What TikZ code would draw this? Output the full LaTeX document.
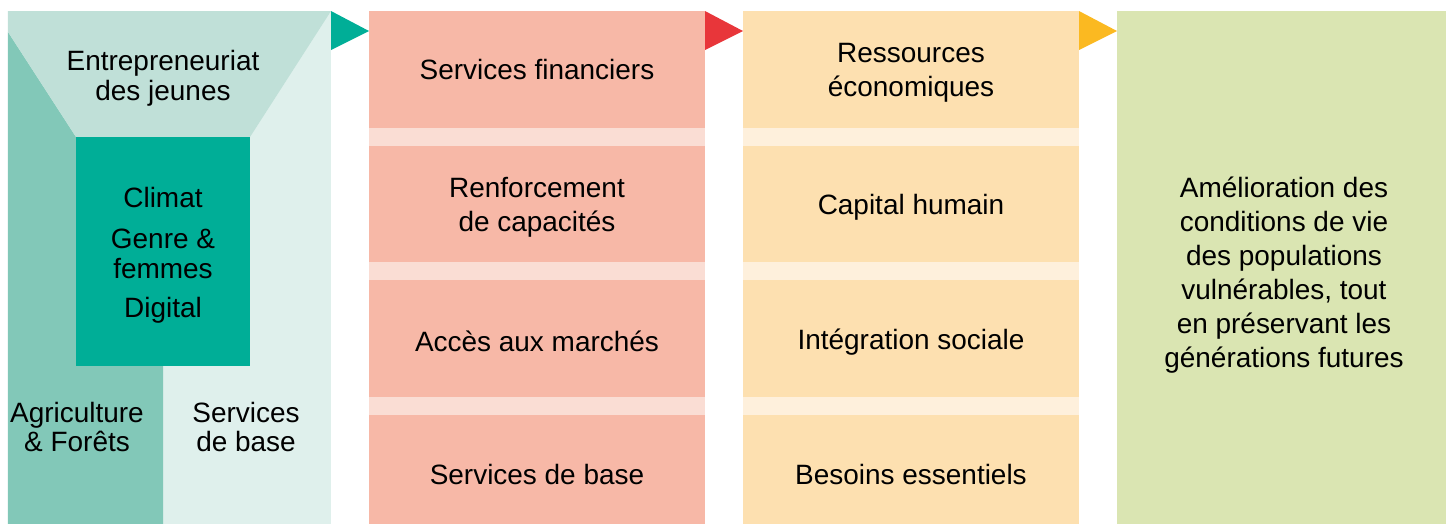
\documentclass[tikz,border=0pt]{standalone}
\usepackage{fontspec}
\setmainfont{Liberation Sans}
\definecolor{mintpale}{HTML}{DFF0EC}
\definecolor{mintlight}{HTML}{C0E0D8}
\definecolor{mintmid}{HTML}{82C8B8}
\definecolor{tealdark}{HTML}{00AE97}
\definecolor{salmon}{HTML}{F7B8A7}
\definecolor{salmonsep}{HTML}{FADDD4}
\definecolor{redtip}{HTML}{E8363A}
\definecolor{peach}{HTML}{FDE0B0}
\definecolor{peachsep}{HTML}{FEF0DC}
\definecolor{yellowtip}{HTML}{FBB921}
\definecolor{olivepale}{HTML}{DAE5B2}
\begin{document}
\begin{tikzpicture}[x=0.01cm,y=-0.01cm,
    lbl/.style={align=center,inner sep=0pt,font=\fontsize{7.95}{9.7}\selectfont},
    lbltight/.style={lbl,font=\fontsize{7.95}{8.5}\selectfont}]
  \useasboundingbox (0,0) rectangle (1453,524) ;
  % secteurs
  \fill[mintpale] (8,11) rectangle (331,524) ;
  \fill[mintmid] (8,32) -- (76,137) -- (163,137) -- (163,524) -- (8,524) -- cycle ;
  \fill[mintlight] (8,11) -- (331,11) -- (250,137) -- (76,137) -- (8,32) -- cycle ;
  \fill[tealdark] (76,137) rectangle (250,366) ;
  \node[lbltight] (jeunes) at (163,78) {Entrepreneuriat\\des jeunes} ;
  \node[lbl] (climat) at (163,198) {Climat} ;
  \node[lbltight] (genre) at (163,254) {Genre \&\\femmes} ;
  \node[lbl] (digital) at (163,310) {Digital} ;
  \node[lbltight] (agri) at (77,427) {Agriculture\\\& Forêts} ;
  \node[lbltight] (basesect) at (246,427) {Services\\de base} ;
  \fill[tealdark] (331,11) -- (369,31) -- (331,50) -- cycle ;
  % leviers
  \fill[salmon] (369,11) rectangle (705,524) ;
  \foreach \y in {128,262,397}
    \fill[salmonsep] (369,\y) rectangle (705,\y+18) ;
  \node[lbl] (finance) at (537,70) {Services financiers} ;
  \node[lbl] (capacite) at (537,207) {Renforcement\\de capacités} ;
  \node[lbl] (marche) at (537,341) {Accès aux marchés} ;
  \node[lbl] (baselev) at (537,475) {Services de base} ;
  \fill[redtip] (705,11) -- (743,31) -- (705,50) -- cycle ;
  % effets
  \fill[peach] (743,11) rectangle (1079,524) ;
  \foreach \y in {128,262,397}
    \fill[peachsep] (743,\y) rectangle (1079,\y+18) ;
  \node[lbl] (ressources) at (911,73) {Ressources\\économiques} ;
  \node[lbl] (humain) at (911,207) {Capital humain} ;
  \node[lbl] (social) at (911,342) {Intégration sociale} ;
  \node[lbl] (besoins) at (911,475) {Besoins essentiels} ;
  \fill[yellowtip] (1079,11) -- (1117,31) -- (1079,50) -- cycle ;
  % impact
  \fill[olivepale] (1117,11) rectangle (1446,524) ;
  \node[lbl] (impact) at (1284,275) {Amélioration des\\conditions de vie\\des populations\\vulnérables, tout\\en préservant les\\générations futures} ;
\end{tikzpicture}
\end{document}
